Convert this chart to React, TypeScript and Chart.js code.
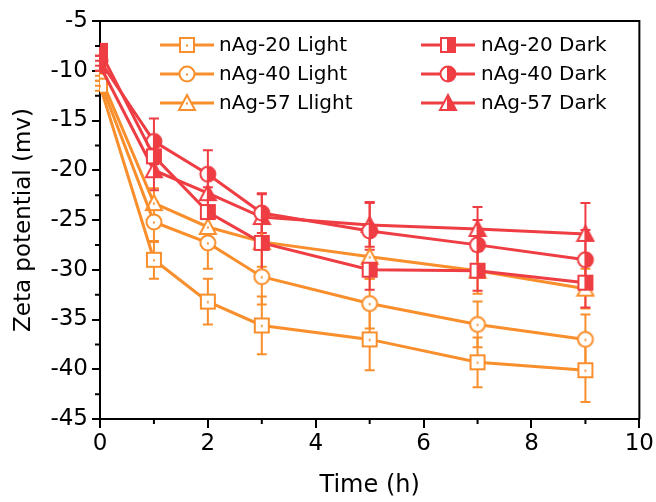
import React, { useEffect, useRef } from 'react';
import { Chart, registerables } from 'chart.js';
Chart.register(...registerables);

const times = [0, 1, 2, 3, 5, 7, 9];
const seriesLabels = ['nAg-20 Light', 'nAg-40 Light', 'nAg-57 Llight', 'nAg-20 Dark', 'nAg-40 Dark', 'nAg-57 Dark'];
const ag20Light = [-11.5, -29.0, -33.2, -35.6, -37.0, -39.3, -40.1];
const ag20LightErr = [0.5, 1.9, 2.3, 2.9, 3.1, 2.5, 3.2];
const ag40Light = [-11.0, -25.2, -27.3, -30.7, -33.4, -35.5, -37.0];
const ag40LightErr = [0.5, 2.0, 2.6, 2.8, 2.5, 2.3, 2.5];
const ag57Light = [-10.5, -23.3, -25.7, -27.2, -28.7, -30.1, -31.9];
const ag57LightErr = [0.5, 1.5, 2.0, 2.5, 2.2, 2.3, 2.0];
const ag20Dark = [-8.0, -18.6, -24.2, -27.3, -30.0, -30.1, -31.3];
const ag20DarkErr = [0.5, 2.0, 2.5, 3.0, 2.0, 2.0, 2.5];
const ag40Dark = [-9.0, -17.1, -20.4, -24.3, -26.1, -27.5, -29.0];
const ag40DarkErr = [0.5, 2.3, 2.4, 2.0, 2.9, 2.5, 3.0];
const ag57Dark = [-9.5, -20.0, -22.3, -24.7, -25.5, -25.9, -26.4];
const ag57DarkErr = [0.5, 2.0, 2.3, 2.3, 2.2, 2.2, 3.1];
const xMinorTicks = [1, 3, 5, 7, 9];
const yMinorTicks = [-7.5, -12.5, -17.5, -22.5, -27.5, -32.5, -37.5, -42.5];

const ORANGE = '#F98F2C';
const RED = '#EE3D43';
const FONT = "'DejaVu Sans', 'Liberation Sans', Arial, sans-serif";

const values = [ag20Light, ag40Light, ag57Light, ag20Dark, ag40Dark, ag57Dark];
const errors = [ag20LightErr, ag40LightErr, ag57LightErr, ag20DarkErr, ag40DarkErr, ag57DarkErr];
const shapes = ['rect', 'circle', 'triangle', 'rect', 'circle', 'triangle'];
const colors = [ORANGE, ORANGE, ORANGE, RED, RED, RED];
const filledFlags = [false, false, false, true, true, true];

function makeMarker(shape: string, color: string, filled: boolean, withLine: boolean) {
  const w = withLine ? 56 : 20;
  const h = 20;
  const c = document.createElement('canvas');
  c.width = w;
  c.height = h;
  const ctx = c.getContext('2d') as CanvasRenderingContext2D;
  const cx = w / 2;
  const cy = h / 2;
  const r = 7;
  ctx.lineWidth = 2;
  ctx.strokeStyle = color;
  if (withLine) {
    ctx.lineWidth = 3;
    ctx.beginPath();
    ctx.moveTo(1, cy);
    ctx.lineTo(w - 1, cy);
    ctx.stroke();
    ctx.lineWidth = 2;
  }
  const path = () => {
    ctx.beginPath();
    if (shape === 'rect') {
      ctx.rect(cx - r, cy - r, 2 * r, 2 * r);
    } else if (shape === 'circle') {
      ctx.arc(cx, cy, r + 0.5, 0, Math.PI * 2);
    } else {
      ctx.moveTo(cx, cy - r - 1);
      ctx.lineTo(cx + r + 1, cy + r);
      ctx.lineTo(cx - r - 1, cy + r);
      ctx.closePath();
    }
  };
  path();
  ctx.fillStyle = '#ffffff';
  ctx.fill();
  if (filled) {
    ctx.save();
    path();
    ctx.clip();
    ctx.fillStyle = color;
    ctx.fillRect(cx, 0, w, h);
    ctx.restore();
    ctx.beginPath();
    ctx.moveTo(cx, cy - r);
    ctx.lineTo(cx, cy + r);
    ctx.stroke();
  } else {
    ctx.fillStyle = color;
    ctx.fillRect(cx - 1, cy - 0.5, 2, 2);
  }
  path();
  ctx.stroke();
  return c;
}

export default function App() {
  const ref = useRef<HTMLCanvasElement | null>(null);
  useEffect(() => {
    document.body.style.margin = '0';
    const canvas = ref.current;
    if (!canvas) return;

    const markers = values.map((_, i) => makeMarker(shapes[i], colors[i], filledFlags[i], false));
    const legendMarkers = values.map((_, i) => makeMarker(shapes[i], colors[i], filledFlags[i], true));

    const datasets = values.map((vals, i) => ({
      label: seriesLabels[i],
      data: vals.map((v, j) => ({ x: times[j], y: v })),
      borderColor: colors[i],
      backgroundColor: colors[i],
      borderWidth: 3,
      tension: 0,
      pointStyle: markers[i],
      pointRadius: 7,
      order: i < 3 ? 2 : 1,
    }));

    const errorBars = {
      id: 'errorBars',
      beforeDatasetsDraw(chart: any) {
        const ctx = chart.ctx;
        const ys = chart.scales.y;
        ctx.save();
        values.forEach((vals, i) => {
          const meta = chart.getDatasetMeta(i);
          ctx.strokeStyle = colors[i];
          ctx.lineWidth = 2;
          meta.data.forEach((pt: any, j: number) => {
            const e = errors[i][j];
            const yt = ys.getPixelForValue(vals[j] + e);
            const yb = ys.getPixelForValue(vals[j] - e);
            const x = pt.x;
            ctx.beginPath();
            ctx.moveTo(x, yt);
            ctx.lineTo(x, yb);
            ctx.moveTo(x - 5, yt);
            ctx.lineTo(x + 5, yt);
            ctx.moveTo(x - 5, yb);
            ctx.lineTo(x + 5, yb);
            ctx.stroke();
          });
        });
        ctx.restore();
      },
    };

    const frame = {
      id: 'frame',
      afterDraw(chart: any) {
        const ctx = chart.ctx;
        const a = chart.chartArea;
        const xs = chart.scales.x;
        const ys = chart.scales.y;
        ctx.save();
        ctx.strokeStyle = '#000';
        ctx.lineWidth = 2;
        ctx.beginPath();
        ctx.moveTo(a.left, a.top);
        ctx.lineTo(a.right, a.top);
        ctx.lineTo(a.right, a.bottom);
        ctx.stroke();
        ctx.beginPath();
        xMinorTicks.forEach((t) => {
          const px = xs.getPixelForValue(t);
          ctx.moveTo(px, a.bottom);
          ctx.lineTo(px, a.bottom + 5);
        });
        yMinorTicks.forEach((t) => {
          const py = ys.getPixelForValue(t);
          ctx.moveTo(a.left, py);
          ctx.lineTo(a.left - 5, py);
        });
        ctx.stroke();
        ctx.restore();
      },
    };

    const legend = {
      id: 'customLegend',
      afterDraw(chart: any) {
        const ctx = chart.ctx;
        ctx.save();
        ctx.font = `20px ${FONT}`;
        ctx.fillStyle = '#000';
        ctx.textBaseline = 'middle';
        ctx.textAlign = 'left';
        seriesLabels.forEach((lab, i) => {
          const col = i < 3 ? 0 : 1;
          const row = i % 3;
          const cx = col === 0 ? 187 : 448;
          const tx = col === 0 ? 219 : 481;
          const cy = 45 + row * 29;
          const img = legendMarkers[i];
          ctx.drawImage(img, cx - img.width / 2, cy - img.height / 2);
          ctx.fillText(lab, tx, cy + 1);
        });
        ctx.restore();
      },
    };

    const chart = new Chart(canvas, {
      type: 'line',
      data: { datasets: datasets as any },
      options: {
        animation: false,
        responsive: false,
        devicePixelRatio: 1,
        layout: { padding: { top: 21, right: 16, left: 0, bottom: 0 } },
        plugins: { legend: { display: false }, tooltip: { enabled: false } },
        scales: {
          x: {
            type: 'linear',
            min: 0,
            max: 10,
            ticks: { stepSize: 2, color: '#000', font: { family: FONT, size: 23 }, padding: 2, maxRotation: 0 },
            grid: { display: true, drawOnChartArea: false, drawTicks: true, tickLength: 9, color: '#000', lineWidth: 2 },
            border: { display: true, color: '#000', width: 2 },
            title: { display: true, text: 'Time (h)', color: '#000', font: { family: FONT, size: 24 }, padding: { top: 0, bottom: 2 } },
            afterFit(scale: any) {
              scale.height = 83;
            },
          },
          y: {
            min: -45,
            max: -5,
            ticks: { stepSize: 5, color: '#000', font: { family: FONT, size: 23 }, padding: 4 },
            grid: { display: true, drawOnChartArea: false, drawTicks: true, tickLength: 8, color: '#000', lineWidth: 2 },
            border: { display: true, color: '#000', width: 2 },
            title: { display: true, text: 'Zeta potential (mv)', color: '#000', font: { family: FONT, size: 23 }, padding: { top: 10, bottom: 0 } },
            afterFit(scale: any) {
              scale.width = 100;
            },
          },
        },
      },
      plugins: [errorBars, frame, legend],
    });
    return () => chart.destroy();
  }, []);
  return (
    <div style={{ width: 656, height: 502, position: 'relative' }}>
      <canvas ref={ref} width={656} height={502} style={{ position: 'absolute', left: 0, top: 0 }} />
    </div>
  );
}
